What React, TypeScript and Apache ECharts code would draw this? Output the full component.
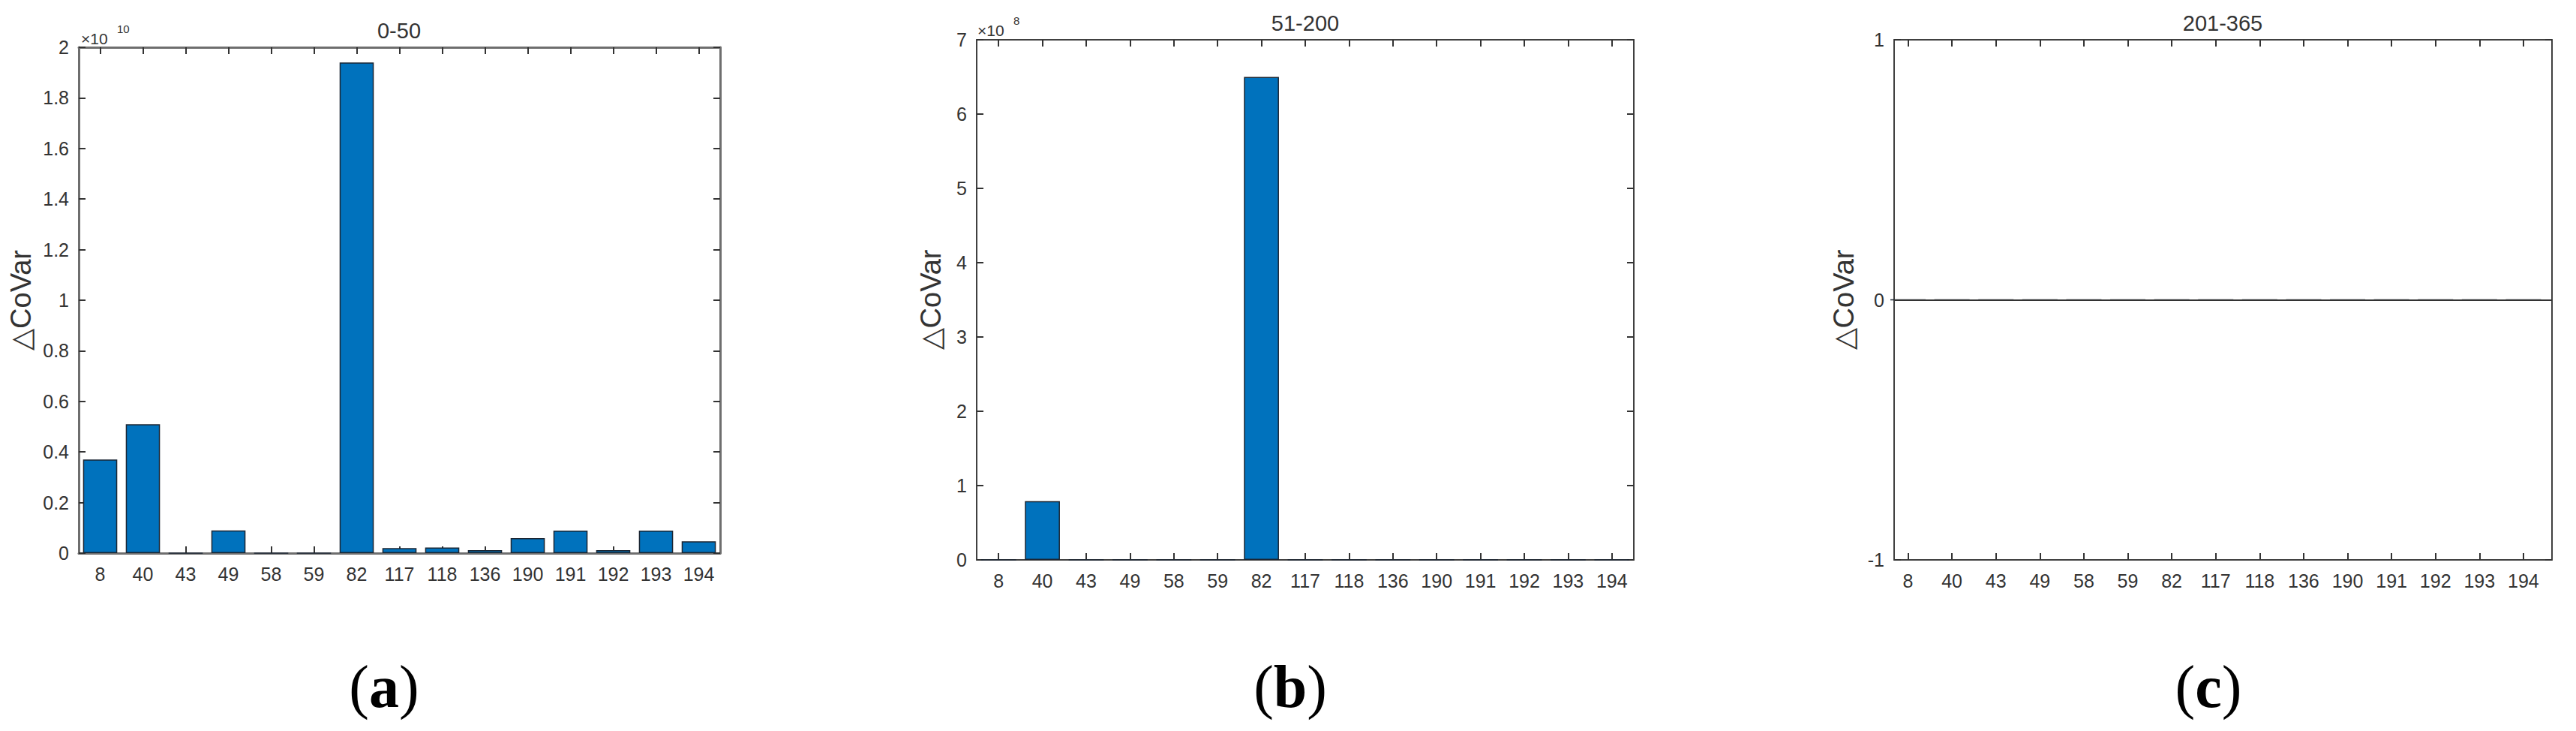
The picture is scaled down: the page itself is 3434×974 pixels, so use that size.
import React, { useEffect, useRef } from 'react';
import * as echarts from 'echarts';

// ---------- data ----------
const categories = ['8', '40', '43', '49', '58', '59', '82', '117', '118', '136', '190', '191', '192', '193', '194'];
// panel (a): 0-50
const valuesA = [3.7e9, 5.1e9, 0, 9.0e8, 0, 0, 1.94e10, 2.0e8, 2.2e8, 1.2e8, 5.9e8, 8.9e8, 1.2e8, 8.9e8, 4.7e8];
// panel (b): 51-200
const valuesB = [0, 7.9e7, 0, 0, 0, 0, 6.5e8, 0, 0, 0, 0, 0, 0, 0, 0];
// panel (c): 201-365
const valuesC = [0, 0, 0, 0, 0, 0, 0, 0, 0, 0, 0, 0, 0, 0, 0];

const titles = ['0-50', '51-200', '201-365'];
const letters = ['a', 'b', 'c'];
const yLabel = '\u25B3CoVar';

const yMinA = 0, yMaxA = 2e10, yStepA = 2e9, yScaleA = 1e10, yExpA = '10';
const yMinB = 0, yMaxB = 7e8, yStepB = 1e8, yScaleB = 1e8, yExpB = '8';
const yMinC = -1, yMaxC = 1, yStepC = 1;
const xMinC = 0.684, xMaxC = 15.65;
const positionsC = categories.map((_, i) => i + 1);

// ---------- styling ----------
const FONT = '"Liberation Sans", Arial, Helvetica, sans-serif';
const SERIF = '"Liberation Serif", "Times New Roman", serif';
const BLUE = '#0072BD';
const EDGE = '#1b2633';
const TXT = '#333333';

const fmt = (scale: number) => (v: number) => String(parseFloat((v / scale).toFixed(2)));

function axisLineStyle(color: string, width: number) {
  return { show: true, onZero: false, lineStyle: { color, width } };
}
function tickStyle(color: string) {
  return { show: true, inside: true, length: 9, lineStyle: { color, width: 2 } };
}

function catAxes(grid: number, color: string, width: number) {
  return [
    {
      gridIndex: grid, type: 'category', data: categories, position: 'bottom', boundaryGap: true,
      axisLine: axisLineStyle(color, width),
      axisTick: { ...tickStyle('#333'), alignWithLabel: true },
      axisLabel: { interval: 0, margin: 15, fontSize: 25, color: TXT, fontFamily: FONT },
      splitLine: { show: false },
    },
    {
      gridIndex: grid, type: 'category', data: categories, position: 'top', boundaryGap: true,
      axisLine: axisLineStyle(color, width),
      axisTick: { ...tickStyle('#333'), alignWithLabel: true },
      axisLabel: { show: false },
      splitLine: { show: false },
    },
  ];
}

function valAxes(grid: number, min: number, max: number, step: number, formatter: any, color: string, width: number, nameGap: number) {
  return [
    {
      gridIndex: grid, type: 'value', position: 'left', min, max, interval: step,
      name: yLabel, nameLocation: 'middle', nameRotate: 90, nameGap,
      nameTextStyle: { fontSize: 38, color: TXT, fontFamily: FONT },
      axisLine: axisLineStyle(color, width),
      axisTick: tickStyle('#333'),
      axisLabel: { margin: 13, fontSize: 25, color: TXT, fontFamily: FONT, formatter },
      splitLine: { show: false },
    },
    {
      gridIndex: grid, type: 'value', position: 'right', min, max, interval: step,
      axisLine: axisLineStyle(color, width),
      axisTick: tickStyle('#333'),
      axisLabel: { show: false },
      splitLine: { show: false },
    },
  ];
}

function barSeries(xi: number, yi: number, data: any[]) {
  return {
    type: 'bar', xAxisIndex: xi, yAxisIndex: yi, data, barCategoryGap: '20%',
    itemStyle: { color: BLUE, borderColor: EDGE, borderWidth: 1.5 },
    silent: true,
  };
}

function textEl(text: string, x: number, y: number, size: number, align = 'center') {
  return {
    type: 'text', x, y, silent: true,
    style: { text, fontSize: size, fontFamily: FONT, fill: TXT, align, verticalAlign: 'middle' },
  };
}

function letterEl(letter: string, x: number, y: number) {
  return {
    type: 'text', x, y, silent: true,
    style: {
      text: `{p|(}{b|${letter}}{p|)}`,
      align: 'center', verticalAlign: 'middle',
      rich: {
        p: { fontSize: 80, fontFamily: SERIF, fontWeight: 'normal', fill: '#000' },
        b: { fontSize: 80, fontFamily: SERIF, fontWeight: 'bold', fill: '#000' },
      },
    },
  };
}

export default function App() {
  const ref = useRef<HTMLDivElement>(null);
  useEffect(() => {
    if (!ref.current) return;
    const chart = echarts.init(ref.current, null, { renderer: 'svg' });
    const axA = '#6e6e6e', axB = '#404040';

    const xAxes: any[] = [
      ...catAxes(0, axA, 3),
      ...catAxes(1, axB, 2),
      {
        gridIndex: 2, type: 'value', position: 'bottom', min: xMinC, max: xMaxC,
        axisLine: axisLineStyle(axB, 2),
        axisTick: { ...tickStyle('#333'), customValues: positionsC },
        axisLabel: {
          customValues: positionsC, margin: 15, fontSize: 25, color: TXT, fontFamily: FONT,
          formatter: (v: number) => categories[Math.round(v) - 1] ?? '',
        },
        splitLine: { show: false },
      },
      {
        gridIndex: 2, type: 'value', position: 'top', min: xMinC, max: xMaxC,
        axisLine: axisLineStyle(axB, 2),
        axisTick: { ...tickStyle('#333'), customValues: positionsC },
        axisLabel: { show: false, customValues: positionsC },
        splitLine: { show: false },
      },
    ];

    const yAxes: any[] = [
      ...valAxes(0, yMinA, yMaxA, yStepA, fmt(yScaleA), axA, 3, 58),
      ...valAxes(1, yMinB, yMaxB, yStepB, fmt(yScaleB), axB, 2, 42),
      ...valAxes(2, yMinC, yMaxC, yStepC, (v: number) => String(v), axB, 2, 48),
    ];

    const cSeries: any = {
      ...barSeries(4, 4, valuesC.map((v, i) => [positionsC[i], v])),
      barWidth: 47,
      markLine: {
        silent: true, symbol: ['none', 'none'], label: { show: false },
        lineStyle: { color: '#333', width: 2, type: 'solid' },
        data: [{ yAxis: 0 }],
      },
    };

    chart.setOption({
      animation: false,
      backgroundColor: '#ffffff',
      grid: [
        { left: 105, top: 63, width: 855, height: 674 },
        { left: 1302, top: 53, width: 876, height: 693 },
        { left: 2525, top: 53, width: 877, height: 693 },
      ],
      xAxis: xAxes,
      yAxis: yAxes,
      series: [
        barSeries(0, 0, valuesA),
        barSeries(2, 2, valuesB),
        cSeries,
      ],
      graphic: [
        textEl(titles[0], 532, 41, 29),
        textEl(titles[1], 1740, 31, 29),
        textEl(titles[2], 2963, 31, 29),
        textEl('\u00D710', 108, 51, 21, 'left'),
        textEl(yExpA, 156, 38, 15, 'left'),
        textEl('\u00D710', 1303, 40, 21, 'left'),
        textEl(yExpB, 1351, 27, 15, 'left'),
        letterEl(letters[0], 512, 915),
        letterEl(letters[1], 1720, 915),
        letterEl(letters[2], 2944, 915),
      ],
    });
    return () => chart.dispose();
  }, []);

  return (
    <div
      ref={ref}
      style={{ position: 'absolute', left: 0, top: 0, width: 3434, height: 974, background: '#fff' }}
    />
  );
}
